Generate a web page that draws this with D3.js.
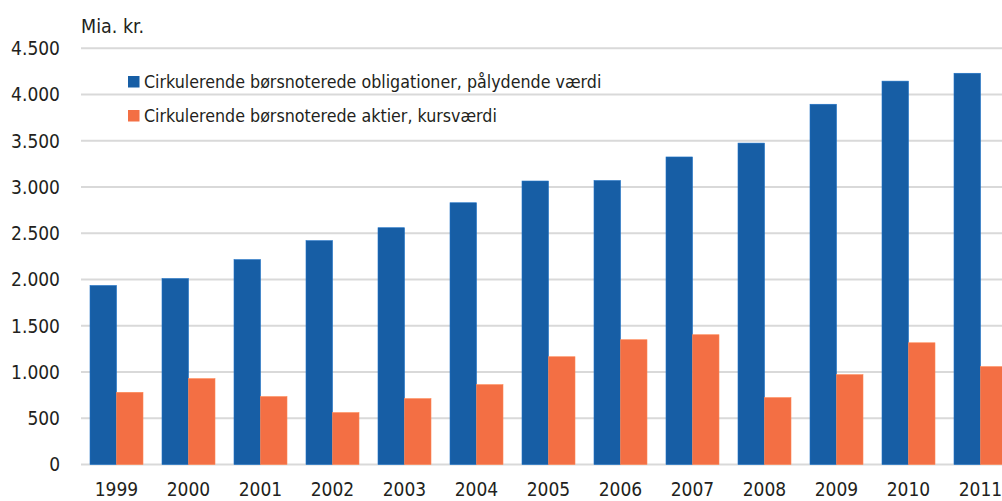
<!DOCTYPE html>
<html lang="da">
<head>
    <meta charset="UTF-8">
    <title>Cirkulerende børsnoterede værdipapirer</title>
    <script src="https://cdn.jsdelivr.net/npm/d3@7"></script>
    <style>
        body{margin:0;background:#fff;}
        text{font-family:"Liberation Sans Narrow","DejaVu Sans Condensed","Roboto Condensed",sans-serif;fill:#231f20;}
    </style>
</head>
<body>
<script>
    // data
    var years = ["1999","2000","2001","2002","2003","2004","2005","2006","2007","2008","2009","2010","2011"];
    var obligationer = [1935,2010,2215,2420,2560,2830,3065,3070,3325,3475,3895,4145,4230];
    var aktier = [780,928,734,561,712,863,1165,1349,1403,723,971,1316,1058];
    var yTicks = [0,500,1000,1500,2000,2500,3000,3500,4000,4500];
    var seriesNames = ["Cirkulerende børsnoterede obligationer, pålydende værdi","Cirkulerende børsnoterede aktier, kursværdi"];
    var colors = ["#175ea5","#f36f44"];

    var width = 1002;
    var height = 501;
    var svg = d3.select('body').append('svg').attr('width',width).attr('height',height);

    var fmt = d3.formatLocale({decimal:",",thousands:".",grouping:[3],currency:["",""]}).format(",");

    //x scale: bandskala pr. år, en gruppe = to søjler
    var x0 = d3.scaleBand().domain(years).range([80.5,1016.5]).paddingInner(0.264).paddingOuter(0.132);
    var x1 = d3.scaleBand().domain([0,1]).range([0,x0.bandwidth()]);
    var y = d3.scaleLinear().domain([0,4500]).range([464.5,48.3]);

    //gitterlinjer
    svg.selectAll('line.grid').data(yTicks).enter().append('line')
        .attr('class','grid')
        .attr('x1',81).attr('x2',width)
        .attr('y1',function(d){return y(d);})
        .attr('y2',function(d){return y(d);})
        .attr('stroke','#d9d9d9')
        .attr('stroke-width',2);

    //y-akse tekst
    svg.selectAll('text.ytick').data(yTicks).enter().append('text')
        .attr('class','ytick')
        .attr('x',60)
        .attr('y',function(d){return y(d);})
        .attr('dy','0.36em')
        .attr('text-anchor','end')
        .attr('font-size','19px')
        .text(function(d){return fmt(d);});

    svg.append('text').attr('x',81).attr('y',33).attr('font-size','19.5px').text('Mia. kr.');

    //søjler
    var series = [obligationer,aktier];
    series.forEach(function(values,s){
        svg.selectAll('rect.s'+s).data(values).enter().append('rect')
            .attr('class','s'+s)
            .attr('x',function(d,i){return x0(years[i]) + x1(s);})
            .attr('y',function(d){return y(d);})
            .attr('width',x1.bandwidth())
            .attr('height',function(d){return y(0) - y(d);})
            .attr('fill',colors[s])
            .attr('stroke',d3.color(colors[s]).brighter(0.5))
            .attr('stroke-width',0.6);
    });

    //x-akse tekst
    svg.selectAll('text.xtick').data(years).enter().append('text')
        .attr('class','xtick')
        .attr('x',function(d){return x0(d) + x0.bandwidth()/2;})
        .attr('y',496)
        .attr('text-anchor','middle')
        .attr('font-size','19px')
        .text(function(d){return d;});

    //legende
    var legend = svg.selectAll('g.legend').data(seriesNames).enter().append('g')
        .attr('class','legend')
        .attr('transform',function(d,i){return 'translate(128,' + (76 + i*34) + ')';});
    legend.append('rect').attr('width',11.5).attr('height',11.5)
        .attr('fill',function(d,i){return colors[i];});
    legend.append('text').attr('x',16).attr('y',12)
        .attr('font-size','17.7px')
        .text(function(d){return d;});
</script>
</body>
</html>
